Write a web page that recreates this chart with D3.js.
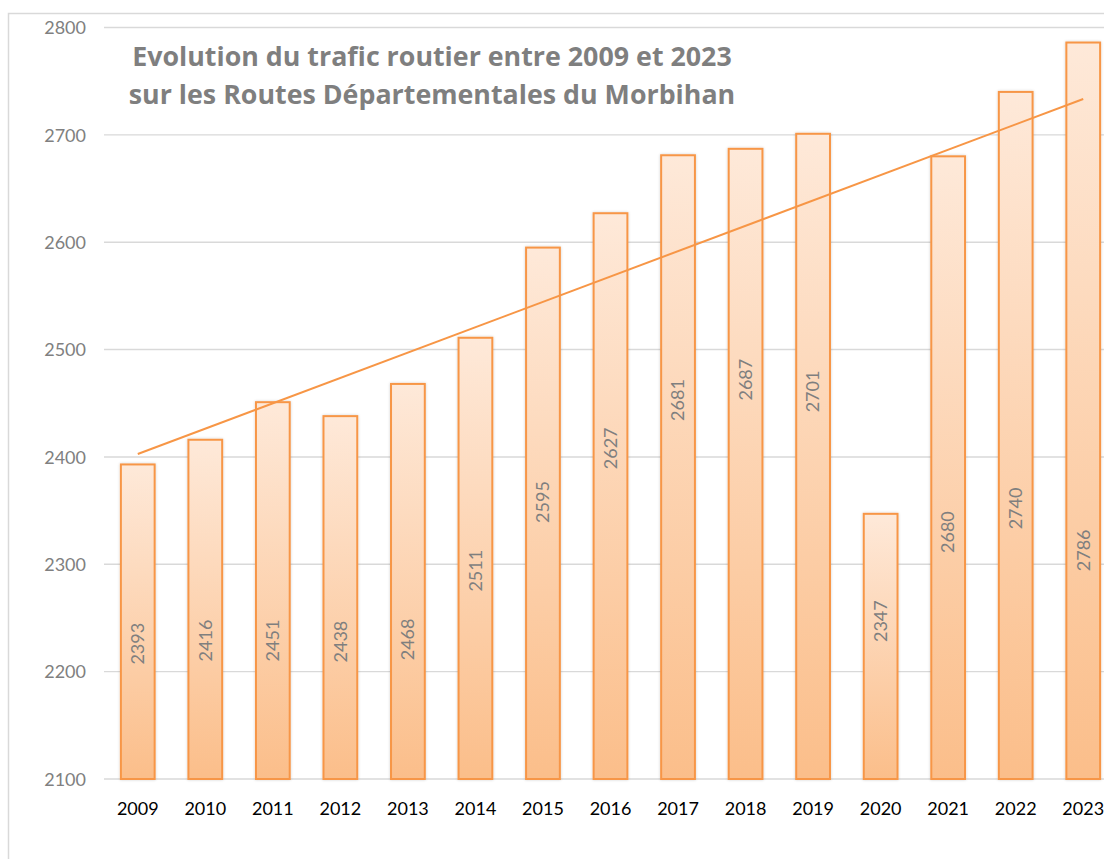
<!DOCTYPE html>
<html>
<head>
<meta charset="utf-8">
<script src="https://cdn.jsdelivr.net/npm/d3@7"></script>
<style>
  body { margin: 0; background: #fff; }
  svg { display: block; font-family: Lato, "Open Sans", sans-serif; }
</style>
</head>
<body>
<svg id="chart"></svg>
<script>
// Données : trafic moyen sur les RD du Morbihan
var years = ["2009", "2010", "2011", "2012", "2013", "2014", "2015", "2016",
             "2017", "2018", "2019", "2020", "2021", "2022", "2023"];
var trafic = [2393, 2416, 2451, 2438, 2468, 2511, 2595, 2627,
              2681, 2687, 2701, 2347, 2680, 2740, 2786];
var yTicks = [2100, 2200, 2300, 2400, 2500, 2600, 2700, 2800];
var titleLines = ["Evolution du trafic routier entre 2009 et 2023",
                  "sur les Routes Départementales du Morbihan"];
// hauteur (en unités de l'axe) où chaque étiquette est centrée, placées à la main dans l'original
var labelAt = [2226, 2229, 2229, 2228, 2230, 2294, 2358, 2408,
               2453, 2472, 2461, 2247, 2330, 2352, 2313];

// Dimensions
var width = 1104, height = 859;
var plot = { left: 104, right: 1117, top: 27.5, bottom: 779 };

var svg = d3.select("#chart")
  .attr("width", width)
  .attr("height", height);

// Dégradé et ombre des barres
var defs = svg.append("defs");
var grad = defs.append("linearGradient")
  .attr("id", "barGrad")
  .attr("x1", 0).attr("y1", 0).attr("x2", 0).attr("y2", 1);
grad.append("stop").attr("offset", "0%").attr("stop-color", "#fee9d9");
grad.append("stop").attr("offset", "100%").attr("stop-color", "#fbbe8a");

var shadow = defs.append("filter").attr("id", "shadow")
  .attr("x", "-30%").attr("y", "-5%").attr("width", "160%").attr("height", "110%");
shadow.append("feGaussianBlur").attr("in", "SourceAlpha").attr("stdDeviation", 1.5).attr("result", "blur");
shadow.append("feComponentTransfer").attr("in", "blur").attr("result", "soft")
  .append("feFuncA").attr("type", "linear").attr("slope", 0.18);
var merge = shadow.append("feMerge");
merge.append("feMergeNode").attr("in", "soft");
merge.append("feMergeNode").attr("in", "SourceGraphic");

// Cadre du graphique
svg.append("path")
  .attr("d", "M8.5," + height + " V13.5 H" + width)
  .attr("fill", "none")
  .attr("stroke", "#d9d9d9")
  .attr("stroke-width", 1.5);

// Échelles
var x = d3.scaleBand()
  .domain(years)
  .range([plot.left, plot.right])
  .paddingInner(0.5)
  .paddingOuter(0.25);

var y = d3.scaleLinear()
  .domain([2100, 2800])
  .range([plot.bottom, plot.top]);

// Grille horizontale
svg.append("g")
  .selectAll("line")
  .data(yTicks)
  .enter().append("line")
  .attr("x1", plot.left)
  .attr("x2", width)
  .attr("y1", d => y(d))
  .attr("y2", d => y(d))
  .attr("stroke", "#d9d9d9")
  .attr("stroke-width", 1.4);

// Axe Y
var yAxis = svg.append("g")
  .attr("transform", "translate(" + (plot.left - 18) + ",0)")
  .call(d3.axisLeft(y).tickValues(yTicks).tickSize(0).tickPadding(0).tickFormat(d3.format("d")));
yAxis.attr("font-family", null).attr("font-size", null);
yAxis.select(".domain").remove();
yAxis.selectAll("text")
  .attr("fill", "#808080")
  .style("font-size", "18px")
  .attr("dy", "0.35em");

// Axe X
var xAxis = svg.append("g")
  .attr("transform", "translate(0," + plot.bottom + ")")
  .call(d3.axisBottom(x).tickSize(0).tickPadding(23));
xAxis.attr("font-family", null).attr("font-size", null);
xAxis.select(".domain").remove();
xAxis.selectAll("text")
  .attr("fill", "#000")
  .style("font-size", "18px");

// Barres
svg.append("g")
  .selectAll("rect")
  .data(trafic)
  .enter().append("rect")
  .attr("x", (d, i) => x(years[i]))
  .attr("y", d => y(d))
  .attr("width", x.bandwidth())
  .attr("height", d => y(2100) - y(d))
  .attr("fill", "url(#barGrad)")
  .attr("stroke", "#f79646")
  .attr("stroke-width", 2)
  .attr("filter", "url(#shadow)");

// Étiquettes de valeurs (verticales)
svg.append("g")
  .selectAll("text")
  .data(trafic)
  .enter().append("text")
  .attr("transform", (d, i) => "translate(" + (x(years[i]) + x.bandwidth() / 2) + "," + y(labelAt[i]) + ") rotate(-90)")
  .attr("text-anchor", "middle")
  .attr("dy", "0.35em")
  .attr("fill", "#7f7f7f")
  .style("font-size", "18px")
  .text(d => d);

// Courbe de tendance linéaire (moindres carrés, comme Excel)
var idx = d3.range(trafic.length);
var mx = d3.mean(idx), my = d3.mean(trafic);
var slope = d3.sum(idx, i => (i - mx) * (trafic[i] - my)) / d3.sum(idx, i => (i - mx) * (i - mx));
var inter = my - slope * mx;
var trend = [0, trafic.length - 1];

svg.append("line")
  .attr("x1", x(years[trend[0]]) + x.bandwidth() / 2)
  .attr("y1", y(inter + slope * trend[0]))
  .attr("x2", x(years[trend[1]]) + x.bandwidth() / 2)
  .attr("y2", y(inter + slope * trend[1]))
  .attr("stroke", "#f79646")
  .attr("stroke-width", 2);

// Titre
svg.append("g")
  .selectAll("text")
  .data(titleLines)
  .enter().append("text")
  .attr("x", 432)
  .attr("y", (d, i) => 66 + i * 38)
  .attr("text-anchor", "middle")
  .attr("fill", "#7f7f7f")
  .style("font-family", "'Open Sans', sans-serif")
  .style("font-size", "26.8px")
  .style("font-weight", "bold")
  .text(d => d);
</script>
</body>
</html>
